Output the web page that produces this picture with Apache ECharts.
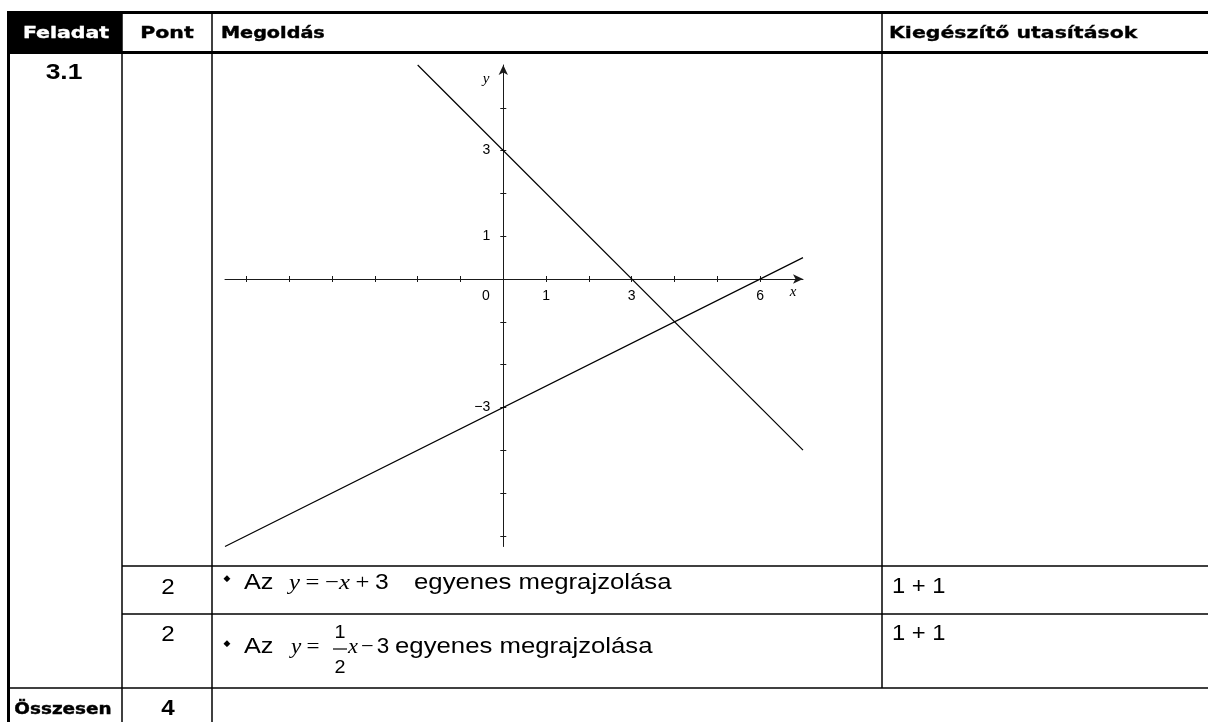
<!DOCTYPE html>
<html>
<head>
<meta charset="utf-8">
<script src="https://cdn.jsdelivr.net/npm/echarts@6/dist/echarts.min.js"></script>
<style>
  html, body { margin: 0; padding: 0; background: #fff; }
  #main { width: 1208px; height: 722px; }
</style>
</head>
<body>
<div id="main"></div>
<script>
// koordináta-rendszer
const xMin = -6.5, xMax = 7;
const yMin = -6.25, yMax = 5;
const xTicks = [-6, -5, -4, -3, -2, -1, 1, 2, 3, 4, 5, 6];
const yTicks = [-6, -5, -4, -3, -2, -1, 1, 2, 3, 4];
const xLabels = [0, 1, 3, 6];
const yLabels = [3, 1, -3];
// y = -x + 3
const lineAX = [-2, 7];
const lineAY = [5, -4];
// y = 1/2 x - 3
const lineBX = [-6.5, 7];
const lineBY = [-6.25, 0.5];
// táblázat
const headers = ['Feladat', 'Pont', 'Megoldás', 'Kiegészítő utasítások'];
const taskId = '3.1';
const points = [2, 2];
const extras = ['1 + 1', '1 + 1'];
const total = 4;
const totalLabel = 'Összesen';

const chart = echarts.init(document.getElementById('main'), null, { renderer: 'canvas' });

const ink = '#000';
const axisInk = '#1a1a1a';
const heavy = 'bold 16px "DejaVu Sans"';
const body = '22px "Liberation Sans"';

// rács helye (px)
const gLeft = 225, gTop = 65, gW = 578, gH = 481.5;
const zeroX = gLeft + (0 - xMin) / (xMax - xMin) * gW;
const zeroY = gTop + (yMax - 0) / (yMax - yMin) * gH;

function hline(y, x1, x2, w) {
  return { type: 'line', z: 10, shape: { x1: x1, y1: y, x2: x2, y2: y }, style: { stroke: ink, lineWidth: w } };
}
function vline(x, y1, y2, w) {
  return { type: 'line', z: 10, shape: { x1: x, y1: y1, x2: x, y2: y2 }, style: { stroke: ink, lineWidth: w } };
}
function txt(text, x, y, font, align, sx, color, strokeW) {
  const style = { text: text, font: font, fill: color || ink, align: align || 'left', verticalAlign: 'middle' };
  if (strokeW) { style.stroke = color || ink; style.lineWidth = strokeW; }
  return { type: 'text', z: 11, x: x, y: y, scaleX: sx || 1, style: style };
}
function pairs(xs, ys) {
  return xs.map((x, i) => [x, ys[i]]);
}
const minus = v => String(v).replace('-', '\u2212');

const mathRich = {
  v: { fontFamily: 'Liberation Serif', fontStyle: 'italic', fontSize: 22, fill: ink },
  o: { fontFamily: 'Liberation Serif', fontSize: 22, fill: ink },
  g: { fontFamily: 'Liberation Sans', fontSize: 18, fill: ink },
  h: { fontFamily: 'Liberation Sans', fontSize: 11, fill: ink },
  n: { fontFamily: 'Liberation Sans', fontSize: 22, fill: ink }
};
function formula(text, x, y, sx) {
  return { type: 'text', z: 11, x: x, y: y, scaleX: sx || 1,
    style: { text: text, rich: mathRich, fontSize: 22, fontFamily: 'Liberation Sans', fill: ink, align: 'left', verticalAlign: 'middle' } };
}

const graphics = [
  // fejléc háttér
  { type: 'rect', z: 9, shape: { x: 8, y: 12, width: 114, height: 40 }, style: { fill: ink } },
  hline(12.5, 7, 1208, 3),
  hline(52.5, 7, 1208, 3),
  hline(566, 122, 1208, 1.5),
  hline(614, 122, 1208, 1.5),
  hline(688, 7, 1208, 1.5),
  vline(8.5, 11, 722, 3),
  vline(122, 12, 722, 1.5),
  vline(212, 12, 722, 1.5),
  vline(882, 12, 688, 1.5),
  txt(headers[0], 66, 34, heavy, 'center', 1.28, '#fff', 0.4),
  txt(headers[1], 167, 34, heavy, 'center', 1.28, ink, 0.4),
  txt(headers[2], 221, 34, heavy, 'left', 1.2, ink, 0.4),
  txt(headers[3], 889, 34, heavy, 'left', 1.28, ink, 0.3),
  txt(taskId, 64, 73, 'bold 22px "Liberation Sans"', 'center', 1.2),
  // első sor
  txt(String(points[0]), 168, 588, body, 'center', 1.1),
  txt('\u25C6', 227, 579, '9px "DejaVu Sans"', 'center'),
  txt('Az', 244, 583, body, 'left', 1.15),
  formula('{v|y}{g| }{o|=}{g| }{o|\u2212}{v|x}{g| }{o|+}{g| }{n|3}', 289, 583, 1.12),
  txt('egyenes megrajzolása', 414, 583, body, 'left', 1.17),
  txt(extras[0], 892, 587, body, 'left', 1.08),
  // második sor
  txt(String(points[1]), 168, 635, body, 'center', 1.1),
  txt('\u25C6', 227, 644, '9px "DejaVu Sans"', 'center'),
  txt('Az', 244, 647, body, 'left', 1.15),
  formula('{v|y}{g| }{o|=}', 291, 647, 1.05),
  txt('1', 340, 633, '18px "Liberation Sans"', 'center', 1.1),
  hline(649, 333, 347, 1.2),
  txt('2', 340, 668, '18px "Liberation Sans"', 'center', 1.1),
  formula('{v|x}{h| }{o|\u2212}{h| }{n|3}', 348, 647, 1.02),
  txt('egyenes megrajzolása', 395, 647, body, 'left', 1.17),
  txt(extras[1], 892, 634, body, 'left', 1.08),
  // összesen
  txt(totalLabel, 63, 710, heavy, 'center', 1.15, ink, 0.4),
  txt(String(total), 168, 709, 'bold 22px "Liberation Sans"', 'center', 1.1),
  // tengelynevek
  txt('y', 486, 79, 'italic 15px "Liberation Serif"', 'center'),
  txt('x', 793, 292, 'italic 15px "Liberation Serif"', 'center')
];

const tickStyle = { show: true, length: 3, lineStyle: { color: axisInk, width: 1 } };
const arrowLine = { show: true, onZero: false, symbol: ['none', 'arrow'], symbolSize: [7, 10], lineStyle: { color: axisInk, width: 1 } };

const option = {
  animation: false,
  backgroundColor: '#fff',
  grid: { left: gLeft, top: gTop, width: gW, height: gH, containLabel: false },
  xAxis: [
    {
      type: 'value', min: xMin, max: xMax, position: 'bottom',
      offset: zeroY - (gTop + gH),
      axisLine: arrowLine,
      axisTick: Object.assign({ customValues: xTicks }, tickStyle),
      axisLabel: {
        customValues: xLabels, margin: 10, color: ink, fontSize: 14, fontFamily: 'Liberation Sans',
        formatter: v => v === 0 ? '{z|0}' : minus(v),
        rich: { z: { fontSize: 14, fontFamily: 'Liberation Sans', color: ink, padding: [0, 35, 0, 0] } }
      },
      splitLine: { show: false }
    },
    {
      type: 'value', min: xMin, max: xMax, position: 'top',
      offset: gTop - zeroY,
      axisLine: { show: false, onZero: false },
      axisTick: Object.assign({ customValues: xTicks }, tickStyle),
      axisLabel: { show: false },
      splitLine: { show: false }
    }
  ],
  yAxis: [
    {
      type: 'value', min: yMin, max: yMax, position: 'left',
      offset: gLeft - zeroX,
      axisLine: arrowLine,
      axisTick: Object.assign({ customValues: yTicks }, tickStyle),
      axisLabel: { customValues: yLabels, margin: 13, color: ink, fontSize: 14, fontFamily: 'Liberation Sans', formatter: minus },
      splitLine: { show: false }
    },
    {
      type: 'value', min: yMin, max: yMax, position: 'right',
      offset: zeroX - (gLeft + gW),
      axisLine: { show: false, onZero: false },
      axisTick: Object.assign({ customValues: yTicks }, tickStyle),
      axisLabel: { show: false },
      splitLine: { show: false }
    }
  ],
  series: [
    {
      name: 'y = -x + 3', type: 'line', xAxisIndex: 0, yAxisIndex: 0,
      data: pairs(lineAX, lineAY), showSymbol: false, clip: false,
      lineStyle: { color: ink, width: 1.2 }
    },
    {
      name: 'y = 1/2 x - 3', type: 'line', xAxisIndex: 0, yAxisIndex: 0,
      data: pairs(lineBX, lineBY), showSymbol: false, clip: false,
      lineStyle: { color: ink, width: 1.2 }
    }
  ],
  graphic: graphics
};

chart.setOption(option);
</script>
</body>
</html>
